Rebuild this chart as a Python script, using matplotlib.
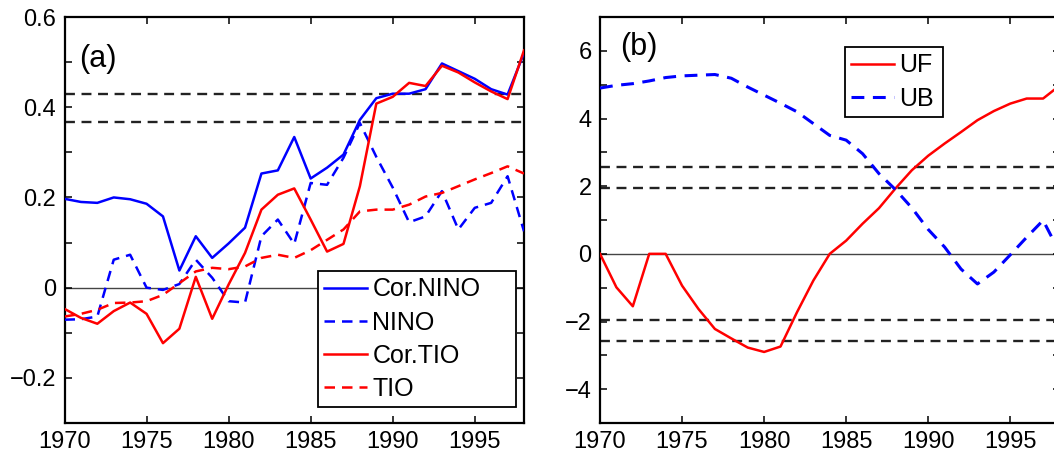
import matplotlib
matplotlib.use("Agg")
import matplotlib.pyplot as plt
from matplotlib.ticker import MultipleLocator

plt.rcParams['font.family'] = ['Liberation Sans', 'DejaVu Sans']

years = list(range(1970, 1999))

cor_nino = [0.197, 0.19, 0.188, 0.20, 0.196, 0.186, 0.158, 0.038, 0.114, 0.066,
            0.098, 0.133, 0.253, 0.26, 0.334, 0.242, 0.266, 0.295, 0.372, 0.42,
            0.43, 0.43, 0.44, 0.497, 0.48, 0.463, 0.44, 0.428, 0.52]
nino = [-0.071, -0.07, -0.064, 0.062, 0.073, 0.0, -0.005, 0.008, 0.062, 0.022,
        -0.03, -0.033, 0.114, 0.151, 0.097, 0.232, 0.228, 0.288, 0.365, 0.29,
        0.222, 0.145, 0.158, 0.214, 0.129, 0.177, 0.188, 0.247, 0.125]
cor_tio = [-0.047, -0.067, -0.08, -0.052, -0.033, -0.058, -0.123, -0.091, 0.024, -0.069,
           0.007, 0.077, 0.173, 0.206, 0.22, 0.151, 0.08, 0.097, 0.225, 0.408,
           0.423, 0.454, 0.447, 0.492, 0.477, 0.455, 0.435, 0.418, 0.526]
tio = [-0.064, -0.058, -0.049, -0.034, -0.033, -0.03, -0.016, 0.01, 0.036, 0.044,
       0.041, 0.047, 0.066, 0.073, 0.066, 0.083, 0.106, 0.129, 0.169, 0.173,
       0.173, 0.184, 0.202, 0.21, 0.225, 0.24, 0.254, 0.269, 0.253]
sig_a = [0.43, 0.367]

uf = [0.0, -0.99, -1.55, 0.0, 0.0, -0.94, -1.63, -2.22, -2.5, -2.77,
      -2.9, -2.74, -1.73, -0.79, 0.0, 0.39, 0.89, 1.35, 1.93, 2.47,
      2.9, 3.26, 3.6, 3.95, 4.22, 4.44, 4.59, 4.59, 4.97]
ub = [4.9, 4.98, 5.03, 5.11, 5.21, 5.26, 5.28, 5.3, 5.19, 4.93,
      4.69, 4.45, 4.2, 3.85, 3.5, 3.36, 2.96, 2.37, 1.9, 1.36,
      0.72, 0.2, -0.45, -0.89, -0.54, -0.03, 0.49, 0.99, 0.05]
sig_b = [2.58, 1.96, -1.96, -2.58]

FS = 17
LFS = 18
DASH = (4.2, 2.8)
LW = 1.8

fig = plt.figure(figsize=(10.54, 4.55), dpi=100)
W = 459.5 / 1054
H = 406 / 455
B = 32 / 455
axa = fig.add_axes([64.5 / 1054, B, W, H])
axb = fig.add_axes([600 / 1054, B, W, H])


def style(ax):
    for s in ax.spines.values():
        s.set_linewidth(1.6)
    ax.tick_params(which='both', direction='in', top=True, right=True,
                   length=5, width=1.1, labelsize=FS, pad=6)
    ax.set_xlim(1970, 1998)
    ax.xaxis.set_major_locator(MultipleLocator(5))


def make_legend(ax, bbox):
    leg = ax.legend(loc='upper left', bbox_to_anchor=bbox, mode='expand',
                    fontsize=LFS, frameon=True, fancybox=False, framealpha=1,
                    edgecolor='black', handlelength=1.72, handletextpad=0.2,
                    labelspacing=0.37, borderpad=0.25, borderaxespad=0)
    leg.get_frame().set_linewidth(1.3)
    return leg


# Panel (a)
ax = axa
style(ax)
ax.set_ylim(-0.3, 0.6)
ax.set_yticks([-0.2, 0, 0.2, 0.4, 0.6])
ax.set_yticklabels(['\u22120.2', '0', '0.2', '0.4', '0.6'])
ax.yaxis.set_minor_locator(MultipleLocator(0.1))
ax.axhline(0, color='#444444', lw=1.0, zorder=1)
for v in sig_a:
    ax.axhline(v, color='#222222', lw=1.7, ls=(0, DASH), zorder=1)
ax.plot(years, cor_nino, color='blue', lw=LW, label='Cor.NINO', zorder=3)
ax.plot(years, nino, color='blue', lw=LW, ls=(0, DASH), label='NINO', zorder=3)
ax.plot(years, cor_tio, color='red', lw=LW, label='Cor.TIO', zorder=3)
ax.plot(years, tio, color='red', lw=LW, ls=(0, DASH), label='TIO', zorder=3)
ax.text(1970.9, 0.507, '(a)', fontsize=22, va='center', ha='left')
make_legend(ax, ((318 - 64.5) / 459.5, 0.0468, 198 / 459.5, 0.327))

# Panel (b)
ax = axb
style(ax)
ax.set_ylim(-5, 7)
ax.set_yticks([-4, -2, 0, 2, 4, 6])
ax.set_yticklabels(['\u22124', '\u22122', '0', '2', '4', '6'])
ax.yaxis.set_minor_locator(MultipleLocator(1))
ax.axhline(0, color='#444444', lw=1.0, zorder=1)
for v in sig_b:
    ax.axhline(v, color='#222222', lw=1.7, ls=(0, DASH), zorder=1)
ax.plot(years, uf, color='red', lw=LW, label='UF', zorder=3)
ax.plot(years, ub, color='blue', lw=2.2, ls=(0, DASH), label='UB', zorder=3)
ax.text(1971.2, 6.1, '(b)', fontsize=22, va='center', ha='left')
make_legend(ax, ((845 - 600) / 459.5, 1 - 68 / 406 - 30 / 406, 98 / 459.5, 68 / 406))

fig.savefig('out.png', dpi=100)
